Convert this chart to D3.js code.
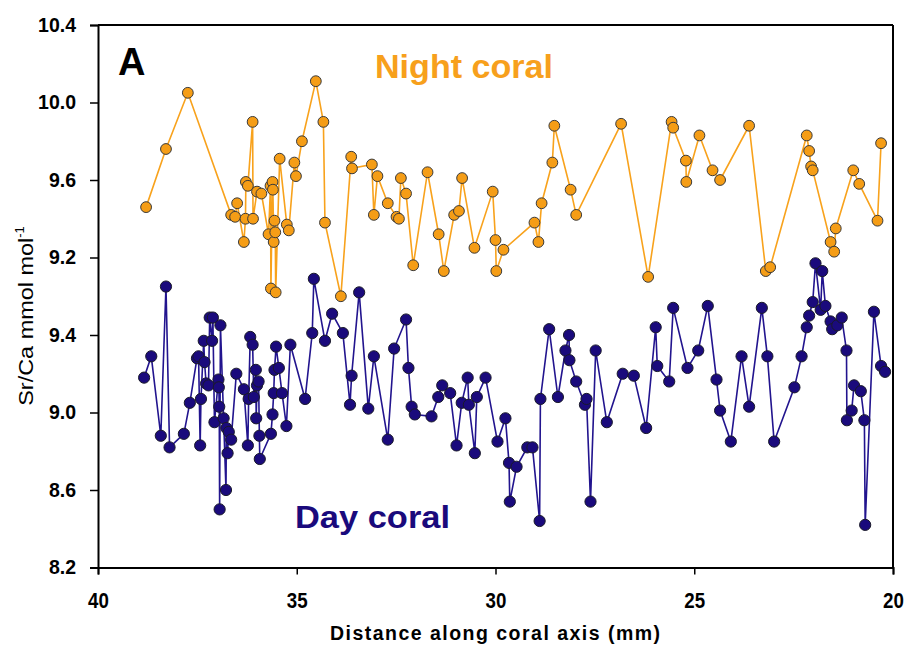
<!DOCTYPE html>
<html>
<head>
<meta charset="utf-8">
<script src="https://cdn.jsdelivr.net/npm/d3@7"></script>
<style>
  html, body { margin: 0; padding: 0; background: #fff; }
  svg { display: block; }
</style>
</head>
<body>
<svg id="chart" width="905" height="646"></svg>
<script>
// ---------- DATA ----------
// Night coral: distance (mm) and Sr/Ca (read on the upper, offset axis labels)
const nightX = [38.79,38.29,37.74,36.65,36.55,36.50,36.33,36.29,36.28,36.23,36.11,36.10,36.00,35.89,35.71,35.66,35.65,35.61,35.60,35.58,35.56,35.54,35.53,35.43,35.25,35.20,35.06,35.02,34.87,34.52,34.33,34.29,33.89,33.63,33.61,33.11,33.06,32.97,32.71,32.49,32.43,32.38,32.25,32.07,31.71,31.43,31.30,31.04,30.92,30.84,30.53,30.07,30.00,29.98,29.80,29.02,28.92,28.84,28.57,28.52,28.11,27.97,26.84,26.16,25.57,25.53,25.21,25.20,24.87,24.54,24.35,23.62,23.20,23.09,22.17,22.11,22.06,22.02,21.57,21.48,21.44,21.00,20.85,20.39,20.30];
const nightY = [9.46,9.76,10.05,9.42,9.41,9.48,9.28,9.40,9.59,9.57,9.90,9.40,9.54,9.53,9.32,9.57,9.04,9.59,9.55,9.28,9.39,9.33,9.02,9.71,9.37,9.34,9.69,9.62,9.80,10.11,9.90,9.38,9.00,9.72,9.66,9.68,9.42,9.62,9.48,9.41,9.40,9.61,9.53,9.16,9.64,9.32,9.13,9.42,9.44,9.61,9.25,9.54,9.29,9.13,9.24,9.38,9.28,9.48,9.69,9.88,9.55,9.42,9.89,9.10,9.90,9.87,9.70,9.59,9.83,9.65,9.60,9.88,9.13,9.15,9.83,9.75,9.67,9.65,9.28,9.23,9.35,9.65,9.58,9.39,9.79];

// Day coral: distance (mm) and Sr/Ca (read on the lower axis labels)
const dayX = [38.84,38.66,38.42,38.29,38.20,37.84,37.69,37.51,37.47,37.43,37.41,37.34,37.32,37.28,37.22,37.19,37.13,37.11,37.07,36.97,36.96,36.95,36.94,36.92,36.84,36.78,36.77,36.74,36.71,36.65,36.52,36.33,36.23,36.21,36.17,36.11,36.08,36.03,36.02,36.00,35.96,35.94,35.93,35.65,35.61,35.58,35.56,35.52,35.45,35.37,35.26,35.16,34.79,34.61,34.57,34.29,34.11,33.84,33.66,33.62,33.43,33.20,33.06,32.71,32.55,32.25,32.19,32.11,32.03,31.61,31.44,31.34,31.14,30.98,30.85,30.70,30.67,30.52,30.47,30.25,29.95,29.75,29.66,29.64,29.47,29.20,29.07,28.89,28.87,28.65,28.43,28.24,28.15,28.14,27.97,27.75,27.71,27.61,27.48,27.20,26.80,26.52,26.21,25.97,25.93,25.63,25.53,25.17,24.90,24.66,24.44,24.35,24.08,23.81,23.62,23.30,23.16,22.99,22.48,22.30,22.17,22.11,22.02,21.95,21.82,21.78,21.70,21.57,21.53,21.40,21.29,21.17,21.16,21.04,20.98,20.81,20.72,20.70,20.48,20.30,20.20];
const dayY = [9.18,9.29,8.88,9.65,8.82,8.89,9.05,9.28,9.29,8.83,9.07,9.37,9.26,9.15,9.14,9.49,9.37,9.49,8.95,9.17,9.13,9.03,8.50,9.45,8.97,8.60,8.92,8.79,8.90,8.86,9.20,9.12,8.83,9.07,9.39,9.35,9.08,9.22,8.97,9.14,9.16,8.88,8.76,8.89,8.99,9.10,9.22,9.34,9.23,9.10,8.93,9.35,9.07,9.41,9.69,9.37,9.51,9.41,9.04,9.19,9.62,9.02,9.29,8.86,9.33,9.48,9.23,9.03,8.99,8.98,9.08,9.14,9.10,8.83,9.05,9.18,9.04,8.79,9.08,9.18,8.85,8.97,8.74,8.54,8.72,8.82,8.82,8.44,9.07,9.43,9.08,9.32,9.40,9.27,9.16,9.04,9.07,8.54,9.32,8.95,9.20,9.19,8.92,9.44,9.24,9.16,9.54,9.23,9.32,9.55,9.17,9.01,8.85,9.29,9.03,9.54,9.29,8.85,9.13,9.29,9.44,9.50,9.57,9.77,9.53,9.73,9.55,9.47,9.43,9.45,9.49,9.32,8.96,9.01,9.14,9.11,8.96,8.42,9.52,9.24,9.21];

// Axis tick labels
const xTicks = [40, 35, 30, 25, 20];
const dayTicks = [8.2, 8.6, 9.0, 9.4];
const nightTicks = [9.2, 9.6, 10.0, 10.4];
const NIGHT_OFFSET = 0.6;   // night series drawn shifted up on the shared axis

const titles = { panel: "A", night: "Night coral", day: "Day coral",
                 xLabel: "Distance along coral axis (mm)", yLabel: "Sr/Ca mmol mol", yExp: "-1" };

// ---------- LAYOUT ----------
const margin = { left: 98, right: 12, top: 25, bottom: 78.5 };
const W = 905, H = 646;
const svg = d3.select("#chart");
const FONT = "Arial, 'Liberation Sans', sans-serif";

const x = d3.scaleLinear().domain([40, 20]).range([margin.left, W - margin.right]);
const y = d3.scaleLinear().domain([8.2, 10.4 + NIGHT_OFFSET]).range([H - margin.bottom, margin.top]);

const night = nightX.map((d, i) => ({ x: d, y: nightY[i] + NIGHT_OFFSET }));
const day = dayX.map((d, i) => ({ x: d, y: dayY[i] }));

const line = d3.line().x(d => x(d.x)).y(d => y(d.y));

// ---------- SERIES ----------
svg.append("path").datum(night)
  .attr("d", line).attr("fill", "none")
  .attr("stroke", "#F8A21C").attr("stroke-width", 1.6);
svg.append("g").selectAll("circle").data(night).join("circle")
  .attr("cx", d => x(d.x)).attr("cy", d => y(d.y)).attr("r", 5.4)
  .attr("fill", "#F59D16").attr("stroke", "#3a3a3a").attr("stroke-width", 1);

svg.append("path").datum(day)
  .attr("d", line).attr("fill", "none")
  .attr("stroke", "#22148E").attr("stroke-width", 1.6);
svg.append("g").selectAll("circle").data(day).join("circle")
  .attr("cx", d => x(d.x)).attr("cy", d => y(d.y)).attr("r", 5.6)
  .attr("fill", "#1A0A7C").attr("stroke", "#1a1a2a").attr("stroke-width", 1);

// ---------- AXES ----------
const x0 = x.range()[0], x1 = x.range()[1];
const yb = y.range()[0], yt = y.range()[1];

const xAxis = svg.append("g").attr("transform", `translate(0,${yb})`)
  .call(d3.axisBottom(x).tickValues(xTicks).tickFormat(d3.format("d")).tickSize(7).tickPadding(18));
xAxis.select(".domain").attr("stroke-width", 2);
xAxis.selectAll(".tick line").attr("stroke-width", 1.5);
xAxis.selectAll("text").attr("font-family", FONT).attr("font-weight", "bold")
  .attr("font-size", 22).attr("fill", "#000").attr("transform", "scale(0.85,1)");

const yTickPos = dayTicks.map(v => ({ pos: v, label: v.toFixed(1) }))
  .concat(nightTicks.map(v => ({ pos: v + NIGHT_OFFSET, label: v.toFixed(1) })));
const labelMap = new Map(yTickPos.map(t => [t.pos.toFixed(2), t.label]));
const yAxis = svg.append("g").attr("transform", `translate(${x0},0)`)
  .call(d3.axisLeft(y).tickValues(yTickPos.map(t => t.pos))
    .tickFormat(v => labelMap.get(v.toFixed(2))).tickSize(8).tickPadding(14));
yAxis.select(".domain").attr("stroke-width", 2);
yAxis.selectAll(".tick line").attr("stroke-width", 1.5);
yAxis.selectAll("text").attr("font-family", FONT).attr("font-weight", "bold")
  .attr("font-size", 19.5).attr("fill", "#000");

// top & right frame
svg.append("line").attr("x1", x0).attr("x2", x1).attr("y1", yt).attr("y2", yt)
  .attr("stroke", "#000").attr("stroke-width", 2);
svg.append("line").attr("x1", x1).attr("x2", x1).attr("y1", yt).attr("y2", yb)
  .attr("stroke", "#000").attr("stroke-width", 2);

// axis titles
svg.append("text").attr("x", 495).attr("y", 640)
  .attr("text-anchor", "middle").attr("font-family", FONT).attr("font-weight", "bold")
  .attr("font-size", 19.5).attr("textLength", 330).attr("lengthAdjust", "spacing")
  .text(titles.xLabel);

const yl = svg.append("text")
  .attr("transform", `translate(33,316) rotate(-90)`)
  .attr("text-anchor", "middle").attr("font-family", FONT).attr("font-size", 21);
yl.append("tspan").attr("textLength", 168).attr("lengthAdjust", "spacingAndGlyphs").text(titles.yLabel);
yl.append("tspan").attr("dy", -9).attr("font-size", 13).text(titles.yExp);

// annotations
svg.append("text").attr("x", 118).attr("y", 75).attr("font-family", FONT)
  .attr("font-weight", "bold").attr("font-size", 38).attr("fill", "#000").text(titles.panel);
svg.append("text").attr("x", 464).attr("y", 78).attr("text-anchor", "middle")
  .attr("font-family", FONT).attr("font-weight", "bold").attr("font-size", 33)
  .attr("textLength", 178).attr("lengthAdjust", "spacingAndGlyphs")
  .attr("fill", "#F7A01C").text(titles.night);
svg.append("text").attr("x", 372.5).attr("y", 528).attr("text-anchor", "middle")
  .attr("font-family", FONT).attr("font-weight", "bold").attr("font-size", 32)
  .attr("textLength", 155).attr("lengthAdjust", "spacingAndGlyphs")
  .attr("fill", "#1A0A7C").text(titles.day);
</script>
</body>
</html>
